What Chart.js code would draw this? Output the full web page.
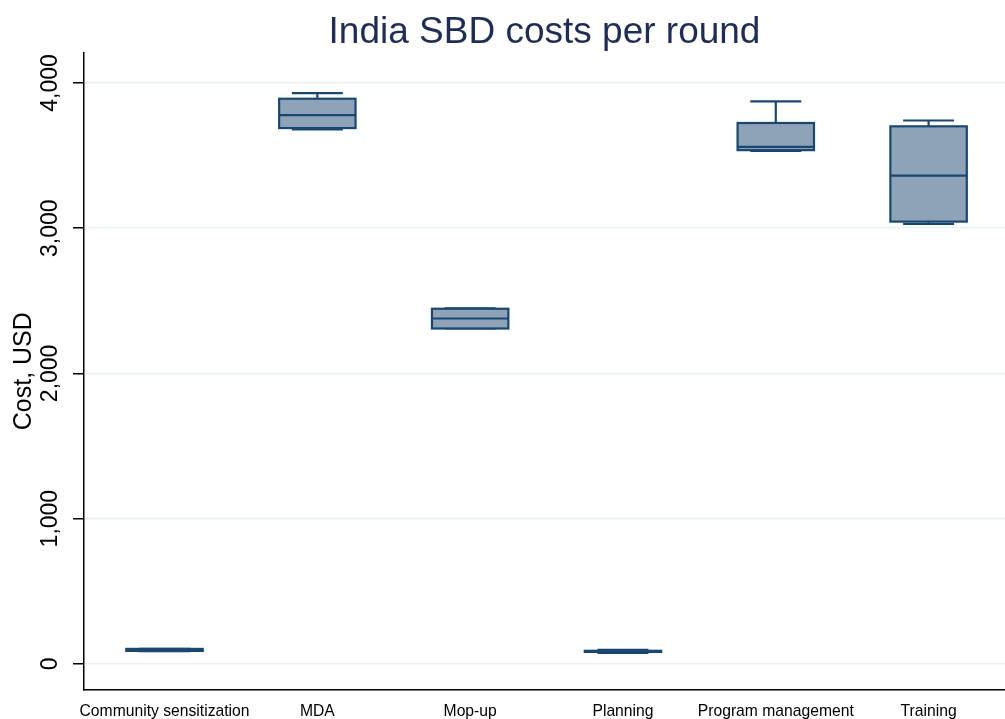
<!DOCTYPE html>
<html>
<head>
<meta charset="utf-8">
<title>India SBD costs per round</title>
<script src="https://cdn.jsdelivr.net/npm/chart.js@4.4.1/dist/chart.umd.min.js"></script>
<style>
  html, body { margin: 0; padding: 0; background: #fff; }
</style>
</head>
<body>
<canvas id="chart" width="1005" height="719"></canvas>
<script>
// Data (USD)
const categories = ['Community sensitization', 'MDA', 'Mop-up', 'Planning', 'Program management', 'Training'];
const whiskerLow  = [88,  3680, 2309, 75, 3531, 3029];
const q1          = [89,  3689, 2309, 82, 3537, 3045];
const median      = [96,  3778, 2378, 86, 3560, 3361];
const q3          = [103, 3891, 2445, 90, 3724, 3701];
const whiskerHigh = [104, 3930, 2447, 96, 3873, 3741];
const yTicks = [0, 1000, 2000, 3000, 4000];

const navy = '#1a476f';
const boxFill = '#8fa3b8';
const font = '"Liberation Sans", Arial, Helvetica, sans-serif';

// whiskers under the boxes, outline + median on top
const boxPlot = {
  id: 'boxPlot',
  beforeDatasetsDraw(chart) {
    const { ctx, scales: { y } } = chart;
    const meta = chart.getDatasetMeta(0);
    ctx.save();
    ctx.strokeStyle = navy;
    ctx.lineWidth = 2.2;
    meta.data.forEach((bar, i) => {
      const cx = bar.x;
      const half = bar.width / 3;
      const lo = y.getPixelForValue(whiskerLow[i]);
      const hi = y.getPixelForValue(whiskerHigh[i]);
      ctx.beginPath();
      ctx.moveTo(cx, y.getPixelForValue(q3[i])); ctx.lineTo(cx, hi);
      ctx.moveTo(cx, y.getPixelForValue(q1[i])); ctx.lineTo(cx, lo);
      ctx.moveTo(cx - half, hi); ctx.lineTo(cx + half, hi);
      ctx.moveTo(cx - half, lo); ctx.lineTo(cx + half, lo);
      ctx.stroke();
    });
    ctx.restore();
  },
  afterDatasetsDraw(chart) {
    const { ctx, scales: { y } } = chart;
    const meta = chart.getDatasetMeta(0);
    ctx.save();
    ctx.strokeStyle = navy;
    ctx.lineWidth = 2.2;
    meta.data.forEach((bar, i) => {
      const left = bar.x - bar.width / 2;
      ctx.strokeRect(left, bar.y, bar.width, bar.base - bar.y);
      const m = y.getPixelForValue(median[i]);
      ctx.beginPath();
      ctx.moveTo(left, m);
      ctx.lineTo(left + bar.width, m);
      ctx.stroke();
    });
    ctx.restore();
  },
  // y tick labels are rotated like the original (reading upwards, centred on the tick)
  afterDraw(chart) {
    const { ctx, scales: { y } } = chart;
    ctx.save();
    ctx.font = '23px ' + font;
    ctx.fillStyle = '#000';
    ctx.textAlign = 'center';
    ctx.textBaseline = 'middle';
    y.ticks.forEach(t => {
      ctx.save();
      ctx.translate(51, y.getPixelForValue(t.value));
      ctx.rotate(-Math.PI / 2);
      ctx.fillText(t.value.toLocaleString('en-US'), 0, 0);
      ctx.restore();
    });
    ctx.restore();
  }
};

new Chart(document.getElementById('chart'), {
  type: 'bar',
  data: {
    datasets: [{
      data: categories.map((c, i) => ({ x: i, y: [q1[i], q3[i]] })),
      backgroundColor: boxFill,
      borderWidth: 0,
      barPercentage: 0.5,
      categoryPercentage: 1
    }]
  },
  options: {
    responsive: false,
    animation: false,
    devicePixelRatio: 1,
    layout: { padding: 0 },
    plugins: {
      legend: { display: false },
      tooltip: { enabled: false },
      title: {
        display: true,
        fullSize: false,
        text: 'India SBD costs per round',
        color: '#1f2d55',
        font: { family: font, size: 37, weight: 'normal' },
        padding: { top: 11, bottom: -3 }
      }
    },
    scales: {
      x: {
        type: 'linear',
        offset: false,
        min: -0.527,
        max: 5.5,
        afterBuildTicks: scale => { scale.ticks = categories.map((c, i) => ({ value: i })); },
        afterFit: scale => { scale.height = 29; },
        grid: { display: false, drawTicks: false },
        border: { display: true, color: '#000', width: 1.5 },
        ticks: {
          autoSkip: false,
          maxRotation: 0,
          padding: 12,
          color: '#000',
          font: { family: font, size: 15.7 },
          callback: v => categories[v] ?? ''
        }
      },
      y: {
        min: -180,
        max: 4210,
        afterBuildTicks: scale => { scale.ticks = yTicks.map(v => ({ value: v })); },
        afterFit: scale => { scale.width = 84; },
        grid: {
          color: '#eaf2f3',
          lineWidth: 1.5,
          tickColor: '#000',
          tickWidth: 1.5,
          tickLength: 11
        },
        border: { display: true, color: '#000', width: 1.5 },
        ticks: { display: false },
        title: {
          display: true,
          text: 'Cost, USD',
          color: '#000',
          font: { family: font, size: 25 },
          padding: { top: 9, bottom: 0 }
        }
      }
    }
  },
  plugins: [boxPlot]
});
</script>
</body>
</html>
